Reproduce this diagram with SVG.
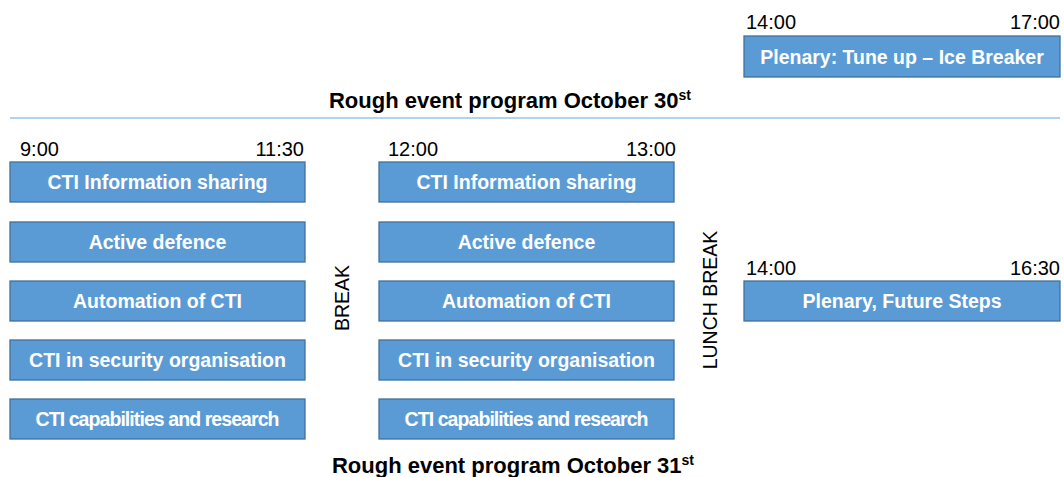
<svg xmlns="http://www.w3.org/2000/svg" width="1064" height="477" viewBox="0 0 1064 477">
<style>
.box{fill:#5B9BD5;stroke:#41719C;stroke-width:1.3}
.bt{font-family:"Liberation Sans",Arial,sans-serif;font-weight:bold;font-size:19.5px;fill:#fff;text-anchor:middle}
.tm{font-family:"Liberation Sans",Arial,sans-serif;font-size:20px;fill:#000}
.title{font-family:"Liberation Sans",Arial,sans-serif;font-weight:bold;font-size:22px;fill:#000;text-anchor:middle}
.vt{font-family:"Liberation Sans",Arial,sans-serif;font-size:19.5px;fill:#000;text-anchor:middle}
</style>
<rect width="1064" height="477" fill="#fff"/>
<g id="day1">
<text class="tm" x="746" y="29">14:00</text>
<text class="tm" x="1060" y="29" text-anchor="end">17:00</text>
<g id="n_plenary1"><rect class="box" x="744" y="36" width="316" height="41"/><text class="bt" x="902" y="64">Plenary: Tune up – Ice Breaker</text></g>
<text class="title" x="510" y="108">Rough event program October 30<tspan font-size="14" dy="-8">st</tspan></text>
<line x1="10" y1="118" x2="1060" y2="118" stroke="#9DC3E6" stroke-width="1.5"/>
</g>
<g id="times">
<text class="tm" x="20" y="156">9:00</text>
<text class="tm" x="304" y="156" text-anchor="end">11:30</text>
<text class="tm" x="388" y="156">12:00</text>
<text class="tm" x="676" y="156" text-anchor="end">13:00</text>
<text class="tm" x="746" y="275">14:00</text>
<text class="tm" x="1060" y="275" text-anchor="end">16:30</text>
</g>
<g id="left">
<g id="l1"><rect class="box" x="10" y="162" width="295" height="40"/><text class="bt" x="157.5" y="189">CTI Information sharing</text></g>
<g id="l2"><rect class="box" x="10" y="222" width="295" height="40"/><text class="bt" x="157.5" y="249">Active defence</text></g>
<g id="l3"><rect class="box" x="10" y="281" width="295" height="40"/><text class="bt" x="157.5" y="308">Automation of CTI</text></g>
<g id="l4"><rect class="box" x="10" y="340" width="295" height="40"/><text class="bt" x="157.5" y="367">CTI in security organisation</text></g>
<g id="l5"><rect class="box" x="10" y="399" width="295" height="40"/><text class="bt" x="157.5" y="426" textLength="244">CTI capabilities and research</text></g>
</g>
<g id="mid">
<g id="m1"><rect class="box" x="379" y="162" width="295" height="40"/><text class="bt" x="526.5" y="189">CTI Information sharing</text></g>
<g id="m2"><rect class="box" x="379" y="222" width="295" height="40"/><text class="bt" x="526.5" y="249">Active defence</text></g>
<g id="m3"><rect class="box" x="379" y="281" width="295" height="40"/><text class="bt" x="526.5" y="308">Automation of CTI</text></g>
<g id="m4"><rect class="box" x="379" y="340" width="295" height="40"/><text class="bt" x="526.5" y="367">CTI in security organisation</text></g>
<g id="m5"><rect class="box" x="379" y="399" width="295" height="40"/><text class="bt" x="526.5" y="426" textLength="244">CTI capabilities and research</text></g>
</g>
<g id="n_break"><text class="vt" transform="translate(349,298) rotate(-90)">BREAK</text></g>
<g id="n_lunch"><text class="vt" transform="translate(717,300) rotate(-90)">LUNCH BREAK</text></g>
<g id="n_plenary2"><rect class="box" x="744" y="281" width="316" height="40"/><text class="bt" x="902" y="308">Plenary, Future Steps</text></g>
<text class="title" x="513" y="473">Rough event program October 31<tspan font-size="14" dy="-8">st</tspan></text>
<g id="connectors"/>
</svg>
